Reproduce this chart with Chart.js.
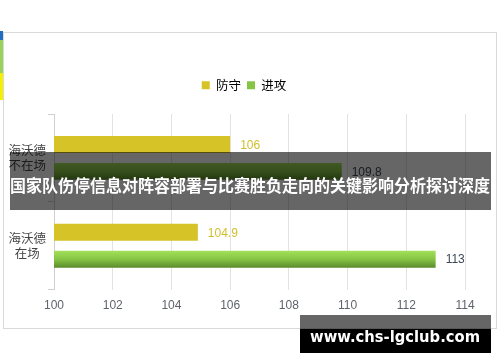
<!DOCTYPE html>
<html>
<head>
<meta charset="utf-8">
<script src="https://cdn.jsdelivr.net/npm/chart.js@4.4.1/dist/chart.umd.min.js"></script>
<style>
  html, body { margin: 0; padding: 0; background: #fff; }
  #wrap { width: 500px; height: 362px; position: relative; }
</style>
</head>
<body>
<div id="wrap"><canvas id="chart" width="500" height="362"></canvas></div>
<script>
// data
const categories = [["海沃德", "不在场"], ["海沃德", "在场"]];
const seriesNames = ["防守", "进攻"];
const defenseValues = [106, 104.9];
const attackValues = [109.8, 113];
const xTicks = [100, 102, 104, 106, 108, 110, 112, 114];
const titleText = "国家队伤停信息对阵容部署与比赛胜负走向的关键影响分析探讨深度";
const watermarkText = "www.chs-lgclub.com";

const YELLOW = "#d5c327";
const GREEN = "#86c544";
const FONT = "'Liberation Sans', Arial, sans-serif";
const CJK = "'Noto Sans CJK SC', 'Noto Sans', sans-serif";

function greenFill(ctx) {
  const el = ctx.element;
  if (!el || el.height == null || isNaN(el.y)) return GREEN;
  const c = ctx.chart.ctx;
  const g = c.createLinearGradient(0, el.y - el.height / 2, 0, el.y + el.height / 2);
  g.addColorStop(0, "#a3e05a");
  g.addColorStop(0.5, "#86c544");
  g.addColorStop(1, "#5a8a2c");
  return g;
}

// card behind the chart, plus the bits of other picture peeking out
const backdrop = {
  id: "backdrop",
  beforeInit(chart) {
    // leave room between legend and plot like the original
    const fit = chart.legend.fit;
    chart.legend.fit = function () {
      fit.bind(chart.legend)();
      this.height = 41;
    };
  },
  beforeDraw(chart) {
    const c = chart.ctx;
    c.save();
    c.fillStyle = "#fff";
    c.fillRect(0, 0, 500, 362);
    c.fillStyle = "#1e6fc0"; c.fillRect(0, 31, 3, 9);
    c.fillStyle = "#97d35a"; c.fillRect(0, 40, 3, 33);
    c.fillStyle = "#f4f000"; c.fillRect(0, 73, 3, 27);
    c.strokeStyle = "#d9d9d9";
    c.lineWidth = 1;
    c.strokeRect(3.5, 32.5, 493, 296);
    c.restore();
  },
  afterLayout(chart) {
    // legend sits a little right of centre in the original
    chart.legend.left += 10;
    chart.legend.right += 10;
  }
};

// value text at the end of every bar
const valueLabels = {
  id: "valueLabels",
  afterDatasetsDraw(chart) {
    const c = chart.ctx;
    c.save();
    c.font = "12px " + FONT;
    c.textBaseline = "middle";
    c.textAlign = "left";
    chart.data.datasets.forEach((ds, i) => {
      const meta = chart.getDatasetMeta(i);
      meta.data.forEach((bar, j) => {
        c.fillStyle = i === 0 ? "#d2bf2c" : "#3e4756";
        c.fillText(String(ds.data[j]), bar.x + 10, bar.y + 1);
      });
    });
    c.restore();
  }
};

// dark title banner and watermark laid over the screenshot
const overlays = {
  id: "overlays",
  afterDraw(chart) {
    const c = chart.ctx;
    c.save();
    c.fillStyle = "rgba(0,0,0,0.6)";
    c.fillRect(10, 152, 481, 58);
    c.fillStyle = "#fff";
    c.font = "bold 16.5px " + CJK;
    c.textAlign = "center";
    c.textBaseline = "middle";
    c.fillText(titleText, 250, 186, 480);

    c.fillStyle = "rgba(0,0,0,0.6)";
    c.fillRect(300, 315, 191, 14);
    c.fillStyle = "#000";
    c.fillRect(300, 329, 191, 24);
    c.fillStyle = "#fff";
    c.font = "bold 16px 'DejaVu Sans', sans-serif";
    c.fillText(watermarkText, 395, 338, 170);
    c.restore();
  }
};

const chart = new Chart(document.getElementById("chart"), {
  type: "bar",
  data: {
    labels: categories,
    datasets: [
      { label: seriesNames[0], data: defenseValues, backgroundColor: YELLOW },
      { label: seriesNames[1], data: attackValues, backgroundColor: greenFill }
    ]
  },
  options: {
    indexAxis: "y",
    responsive: false,
    animation: false,
    categoryPercentage: 0.614,
    barPercentage: 0.63,
    layout: { padding: { left: 3, right: 35, top: 73, bottom: 40 } },
    plugins: {
      legend: {
        position: "top",
        labels: {
          boxWidth: 8,
          boxHeight: 8,
          padding: 6,
          color: "#333",
          font: { family: CJK, size: 12.5 },
          generateLabels(ch) {
            return seriesNames.map((name, i) => ({
              text: name,
              fillStyle: i === 0 ? YELLOW : GREEN,
              strokeStyle: "rgba(0,0,0,0)",
              lineWidth: 0,
              datasetIndex: i
            }));
          }
        }
      },
      tooltip: { enabled: false }
    },
    scales: {
      x: {
        min: 100,
        max: 114,
        afterBuildTicks(axis) { axis.ticks = xTicks.map(v => ({ value: v })); },
        grid: { color: "#e3e3e3", tickLength: 0 },
        border: { display: false },
        ticks: { color: "#5f636b", padding: 9, font: { family: FONT, size: 12 } }
      },
      y: {
        afterFit(axis) { axis.width = 51; },
        grid: { drawOnChartArea: false, tickLength: 6, color: "#d0d0d0" },
        border: { color: "#d0d0d0" },
        ticks: {
          crossAlign: "center",
          padding: 2,
          color: "#444",
          font: { family: CJK, size: 12.5, lineHeight: 1.2 }
        }
      }
    }
  },
  plugins: [backdrop, valueLabels, overlays]
});

// second pass so the green gradient can follow each bar's position
chart.update();
</script>
</body>
</html>
